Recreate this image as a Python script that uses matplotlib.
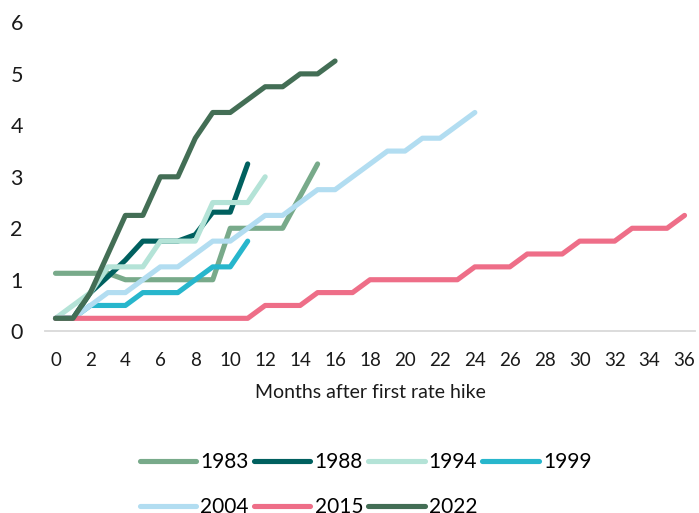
#!/usr/bin/env python3

import matplotlib
matplotlib.use("Agg")
import matplotlib.pyplot as plt

# cumulative rise in policy rate (pp), month by month after the first hike
months_ticks = list(range(0, 37, 2))
y_ticks = [0, 1, 2, 3, 4, 5, 6]

years = ["1983", "1988", "1994", "1999", "2004", "2015", "2022"]

hike_1983 = [1.125, 1.125, 1.125, 1.125, 1.0, 1.0, 1.0, 1.0, 1.0, 1.0, 2.0, 2.0, 2.0, 2.0, 2.625, 3.25]
hike_1988 = [0.25, 0.25, 0.75, 1.06, 1.38, 1.75, 1.75, 1.75, 1.875, 2.3125, 2.3125, 3.25]
hike_1994 = [0.25, 0.5, 0.75, 1.25, 1.25, 1.25, 1.75, 1.75, 1.75, 2.5, 2.5, 2.5, 3.0]
hike_1999 = [0.25, 0.25, 0.5, 0.5, 0.5, 0.75, 0.75, 0.75, 1.0, 1.25, 1.25, 1.75]
hike_2004 = [0.25, 0.25, 0.5, 0.75, 0.75, 1.0, 1.25, 1.25, 1.5, 1.75, 1.75, 2.0, 2.25,
	2.25, 2.5, 2.75, 2.75, 3.0, 3.25, 3.5, 3.5, 3.75, 3.75, 4.0, 4.25]
hike_2015 = [0.25, 0.25, 0.25, 0.25, 0.25, 0.25, 0.25, 0.25, 0.25, 0.25, 0.25, 0.25,
	0.5, 0.5, 0.5, 0.75, 0.75, 0.75, 1.0, 1.0, 1.0, 1.0, 1.0, 1.0,
	1.25, 1.25, 1.25, 1.5, 1.5, 1.5, 1.75, 1.75, 1.75, 2.0, 2.0, 2.0, 2.25]
hike_2022 = [0.25, 0.25, 0.75, 1.5, 2.25, 2.25, 3.0, 3.0, 3.75, 4.25, 4.25, 4.5, 4.75, 4.75, 5.0, 5.0, 5.25]

series = [hike_1983, hike_1988, hike_1994, hike_1999, hike_2004, hike_2015, hike_2022]
colours = ["#78aa8a", "#00605f", "#b4e3d7", "#27b6cc", "#b2ddf1", "#ee6e88", "#436e55"]

plt.rcParams["font.family"] = ["Lato", "DejaVu Sans"]

fig = plt.figure(figsize=(6.99, 5.13), dpi=100)
ax = fig.add_axes([0.0644, 0.3544, 0.9299, 0.6019])

lines = {}
for year, values, colour in zip(years, series, colours):
	line, = ax.plot(range(len(values)), values, color=colour, lw=3.7,
		solid_capstyle="round", solid_joinstyle="round", label=year)
	lines[year] = line

ax.set_xlim(-0.6, 36.6)
ax.set_ylim(0, 6)
ax.set_xticks(months_ticks)
ax.set_yticks(y_ticks)

for side in ("top", "right", "left"):
	ax.spines[side].set_visible(False)
ax.spines["bottom"].set_color("#d9d9d9")
ax.spines["bottom"].set_linewidth(1.3)

ax.tick_params(axis="x", length=0, pad=15, labelsize=13.5, colors="#1a1a1a")
ax.tick_params(axis="y", length=0, pad=16, labelsize=15.5, colors="#1a1a1a")
ax.set_xlabel("Months after first rate hike", fontsize=14, labelpad=11, color="#1a1a1a")

# legend is laid out row by row in the original, matplotlib fills columns
order = ["1983", "2004", "1988", "2015", "1994", "2022", "1999"]
fig.legend([lines[y] for y in order], order, loc="upper left",
	bbox_to_anchor=(140 / 699, 1 - 452 / 513), ncol=4, frameon=False,
	fontsize=15, handlelength=2.7, handletextpad=0.2, columnspacing=0.25,
	labelspacing=1.2, borderpad=0, borderaxespad=0)

fig.savefig("out.png", dpi=100)
